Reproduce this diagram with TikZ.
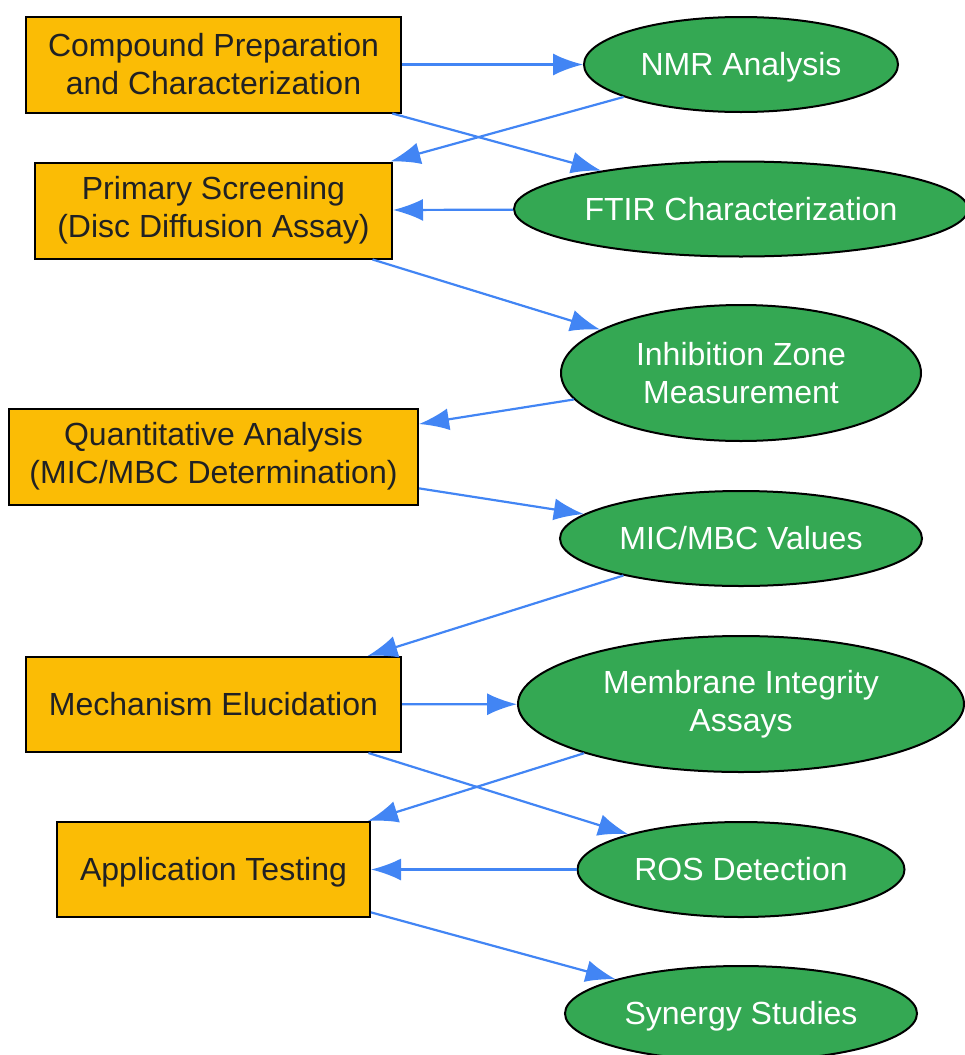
\documentclass[tikz,border=0pt]{standalone}
\usepackage{fontspec}
\setmainfont{Liberation Sans}
\usetikzlibrary{shapes.geometric,arrows.meta}
\definecolor{stagefill}{HTML}{FBBC05}
\definecolor{outfill}{HTML}{34A853}
\definecolor{flowblue}{HTML}{4285F4}
\definecolor{inktext}{HTML}{202124}
\tikzset{
  stage/.style={draw=black, line width=1pt, fill=stagefill, text=inktext, align=center,
    minimum height=48pt, inner sep=0pt, font=\fontsize{16}{19}\selectfont},
  output/.style={ellipse, draw=black, line width=1pt, fill=outfill, text=white, align=center,
    minimum height=47.5pt, inner sep=0pt, font=\fontsize{16}{19}\selectfont},
  oneline/.style={text height=12pt, text depth=1pt},
  flow/.style={draw=flowblue, line width=1.1pt, -{Latex[length=15pt,width=11pt]}}
}

\begin{document}
\begin{tikzpicture}[x=0.5pt,y=-0.5pt]
                \useasboundingbox (0,0) rectangle (964,1055);

                \node[stage, minimum width=187.5pt] (prep) at (213.5,64.5) {Compound Preparation\\and Characterization};
                \node[stage, minimum width=178.5pt] (screen) at (213.5,210.5) {Primary Screening\\(Disc Diffusion Assay)};
                \node[stage, minimum width=204.5pt] (quant) at (213.5,456.5) {Quantitative Analysis\\(MIC/MBC Determination)};
                \node[stage, oneline, minimum width=187.5pt, minimum height=47.5pt] (mech) at (213.5,704.5) {Mechanism Elucidation};
                \node[stage, oneline, minimum width=156.5pt, minimum height=47.5pt] (app) at (213.5,869.5) {Application Testing};

                \node[output, oneline, minimum width=157pt] (nmr) at (741,64.5) {NMR Analysis};
                \node[output, oneline, minimum width=227pt] (ftir) at (741,209) {FTIR Characterization};
                \node[output, minimum width=180pt, minimum height=68pt] (zone) at (741,373) {Inhibition Zone\\Measurement};
                \node[output, oneline, minimum width=181pt] (mic) at (741,538.5) {MIC/MBC Values};
                \node[output, minimum width=223pt, minimum height=68pt] (membrane) at (741,704) {Membrane Integrity\\Assays};
                \node[output, oneline, minimum width=163.5pt] (ros) at (741,869.5) {ROS Detection};
                \node[output, oneline, minimum width=176pt] (synergy) at (741,1013.5) {Synergy Studies};

                \draw[flow] (prep) -- (nmr);
                \draw[flow] (prep) -- (ftir);
                \draw[flow] (nmr) -- (screen);
                \draw[flow] (ftir) -- (screen);
                \draw[flow] (screen) -- (zone);
                \draw[flow] (zone) -- (quant);
                \draw[flow] (quant) -- (mic);
                \draw[flow] (mic) -- (mech);
                \draw[flow] (mech) -- (membrane);
                \draw[flow] (mech) -- (ros);
                \draw[flow] (membrane) -- (app);
                \draw[flow] (ros) -- (app);
                \draw[flow] (app) -- (synergy);
            \end{tikzpicture}
\end{document}
